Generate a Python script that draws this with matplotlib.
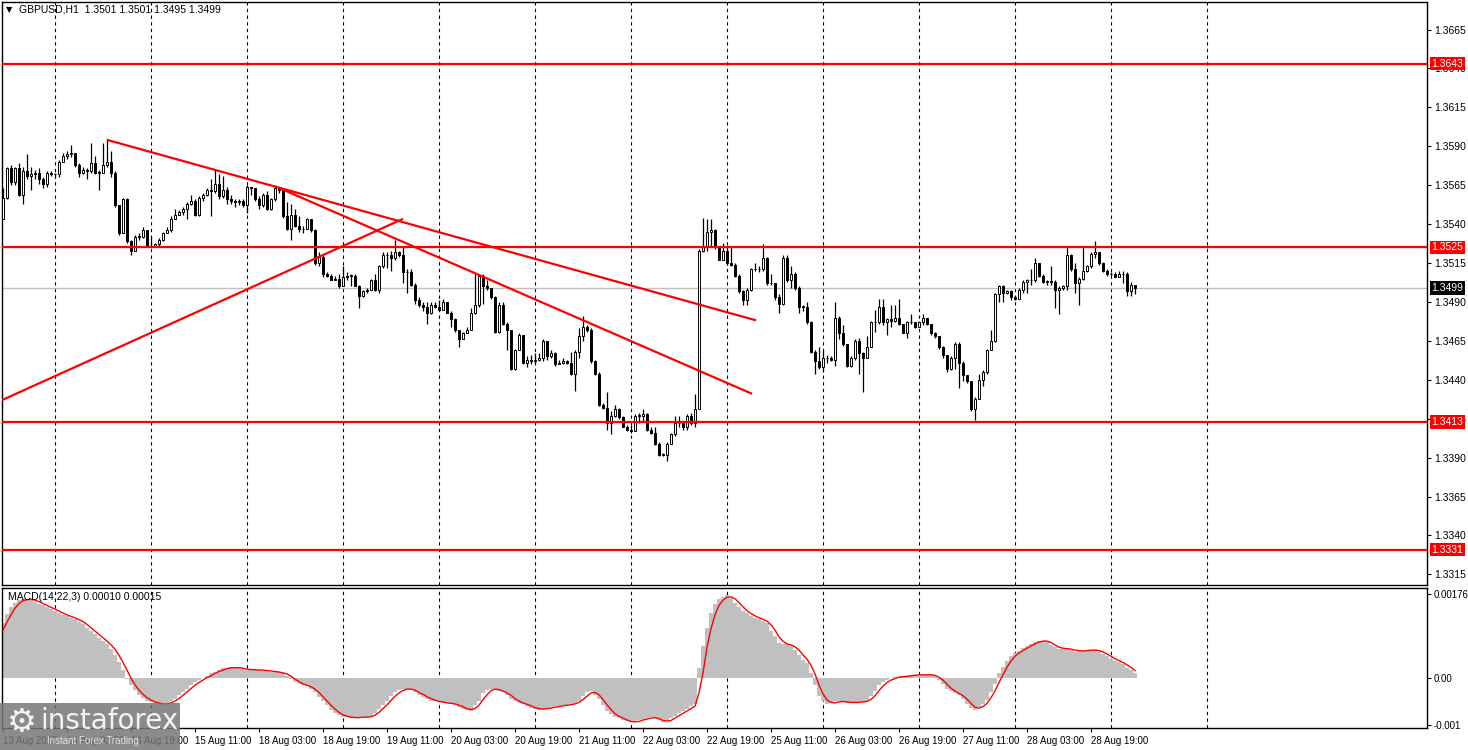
import numpy as np
import matplotlib
matplotlib.use('Agg')
import matplotlib.pyplot as plt
from matplotlib.patches import Rectangle

# GBPUSD H1, one bar per hour: 13 Aug 11:00 ... 29 Aug 06:00
first_open = 1.3543
close = [
    1.3557, 1.3576, 1.3567, 1.3576, 1.3559, 1.3574, 1.3571, 1.3572, 1.3573, 1.3569,
    1.3566, 1.3573, 1.3572, 1.3572, 1.3580, 1.3584, 1.3585, 1.3586, 1.3578, 1.3573,
    1.3575, 1.3574, 1.3579, 1.3573, 1.3573, 1.3578, 1.3580, 1.3573, 1.3552, 1.3534,
    1.3556, 1.3529, 1.3523, 1.3532, 1.3532, 1.3536, 1.3526, 1.3526, 1.3527, 1.3530,
    1.3534, 1.3536, 1.3543, 1.3546, 1.3548, 1.3550, 1.3553, 1.3555, 1.3546, 1.3557,
    1.3559, 1.3562, 1.3561, 1.3566, 1.3558, 1.3562, 1.3556, 1.3555, 1.3554, 1.3555,
    1.3552, 1.3564, 1.3563, 1.3556, 1.3552, 1.3559, 1.3550, 1.3556, 1.3563, 1.3562,
    1.3545, 1.3537, 1.3546, 1.3539, 1.3537, 1.3537, 1.3543, 1.3536, 1.3515, 1.3519,
    1.3508, 1.3507, 1.3504, 1.3505, 1.3500, 1.3506, 1.3507, 1.3507, 1.3500, 1.3494,
    1.3497, 1.3498, 1.3504, 1.3498, 1.3513, 1.3520, 1.3520, 1.3518, 1.3522, 1.3520,
    1.3509, 1.3509, 1.3501, 1.3491, 1.3488, 1.3487, 1.3483, 1.3488, 1.3487, 1.3485,
    1.3490, 1.3483, 1.3479, 1.3472, 1.3466, 1.3470, 1.3472, 1.3483, 1.3488, 1.3507,
    1.3500, 1.3499, 1.3493, 1.3471, 1.3488, 1.3476, 1.3472, 1.3447, 1.3459, 1.3469,
    1.3451, 1.3453, 1.3452, 1.3453, 1.3454, 1.3465, 1.3455, 1.3457, 1.3450, 1.3451,
    1.3452, 1.3451, 1.3444, 1.3458, 1.3468, 1.3474, 1.3472, 1.3452, 1.3444, 1.3424,
    1.3422, 1.3412, 1.3417, 1.3421, 1.3416, 1.3410, 1.3408, 1.3407, 1.3417, 1.3417,
    1.3418, 1.3408, 1.3406, 1.3399, 1.3392, 1.3392, 1.3399, 1.3405, 1.3412, 1.3412,
    1.3410, 1.3417, 1.3412, 1.3421, 1.3523, 1.3525, 1.3535, 1.3536, 1.3525, 1.3517,
    1.3523, 1.3515, 1.3514, 1.3507, 1.3497, 1.3491, 1.3498, 1.3511, 1.3511, 1.3511,
    1.3518, 1.3502, 1.3502, 1.3493, 1.3489, 1.3518, 1.3504, 1.3508, 1.3499, 1.3487,
    1.3487, 1.3477, 1.3458, 1.3452, 1.3448, 1.3454, 1.3454, 1.3453, 1.3480, 1.3470,
    1.3463, 1.3449, 1.3454, 1.3465, 1.3457, 1.3454, 1.3461, 1.3477, 1.3477, 1.3487,
    1.3477, 1.3479, 1.3478, 1.3480, 1.3476, 1.3470, 1.3477, 1.3477, 1.3474, 1.3477,
    1.3480, 1.3476, 1.3470, 1.3468, 1.3461, 1.3456, 1.3447, 1.3454, 1.3463, 1.3451,
    1.3443, 1.3439, 1.3421, 1.3428, 1.3440, 1.3445, 1.3459, 1.3465, 1.3495, 1.3500,
    1.3496, 1.3497, 1.3493, 1.3492, 1.3498, 1.3503, 1.3504, 1.3504, 1.3515, 1.3507,
    1.3503, 1.3503, 1.3503, 1.3498, 1.3499, 1.3500, 1.3520, 1.3511, 1.3502, 1.3505,
    1.3510, 1.3513, 1.3521, 1.3522, 1.3515, 1.3510, 1.3508, 1.3508, 1.3506, 1.3508,
    1.3508, 1.3497, 1.3501, 1.3499]
high = [
    1.3563, 1.3577, 1.3578, 1.3577, 1.3579, 1.3577, 1.3585, 1.3577, 1.3575, 1.3576,
    1.3570, 1.3574, 1.3574, 1.3573, 1.3581, 1.3586, 1.3587, 1.3591, 1.3584, 1.3579,
    1.3577, 1.3576, 1.3592, 1.3584, 1.3575, 1.3592, 1.3594, 1.3587, 1.3574, 1.3552,
    1.3557, 1.3557, 1.3530, 1.3533, 1.3534, 1.3538, 1.3536, 1.3532, 1.3528, 1.3531,
    1.3535, 1.3538, 1.3545, 1.3550, 1.3549, 1.3551, 1.3554, 1.3559, 1.3556, 1.3558,
    1.3560, 1.3563, 1.3569, 1.3575, 1.3572, 1.3571, 1.3564, 1.3559, 1.3556, 1.3556,
    1.3556, 1.3565, 1.3564, 1.3563, 1.3558, 1.3560, 1.3561, 1.3557, 1.3565, 1.3564,
    1.3563, 1.3554, 1.3553, 1.3550, 1.3545, 1.3539, 1.3544, 1.3543, 1.3537, 1.3522,
    1.3520, 1.3509, 1.3508, 1.3507, 1.3508, 1.3513, 1.3509, 1.3508, 1.3508, 1.3501,
    1.3498, 1.3499, 1.3505, 1.3508, 1.3514, 1.3522, 1.3522, 1.3523, 1.3530, 1.3523,
    1.3525, 1.3511, 1.3511, 1.3502, 1.3493, 1.3490, 1.3490, 1.3490, 1.3490, 1.3491,
    1.3492, 1.3490, 1.3484, 1.3480, 1.3472, 1.3471, 1.3474, 1.3486, 1.3508, 1.3508,
    1.3508, 1.3504, 1.3499, 1.3494, 1.3490, 1.3490, 1.3477, 1.3472, 1.3460, 1.3470,
    1.3469, 1.3455, 1.3456, 1.3457, 1.3457, 1.3466, 1.3465, 1.3459, 1.3458, 1.3453,
    1.3454, 1.3453, 1.3458, 1.3459, 1.3473, 1.3481, 1.3475, 1.3473, 1.3453, 1.3445,
    1.3425, 1.3432, 1.3420, 1.3424, 1.3422, 1.3417, 1.3411, 1.3411, 1.3418, 1.3419,
    1.3421, 1.3419, 1.3410, 1.3410, 1.3400, 1.3393, 1.3400, 1.3406, 1.3417, 1.3417,
    1.3412, 1.3418, 1.3419, 1.3431, 1.3524, 1.3544, 1.3543, 1.3543, 1.3537, 1.3525,
    1.3528, 1.3525, 1.3525, 1.3515, 1.3508, 1.3498, 1.3499, 1.3512, 1.3515, 1.3513,
    1.3527, 1.3519, 1.3508, 1.3502, 1.3495, 1.3520, 1.3520, 1.3513, 1.3509, 1.3500,
    1.3488, 1.3490, 1.3478, 1.3459, 1.3461, 1.3459, 1.3456, 1.3455, 1.3490, 1.3481,
    1.3475, 1.3463, 1.3455, 1.3466, 1.3467, 1.3458, 1.3468, 1.3478, 1.3485, 1.3492,
    1.3492, 1.3480, 1.3488, 1.3488, 1.3492, 1.3476, 1.3478, 1.3482, 1.3477, 1.3478,
    1.3482, 1.3480, 1.3476, 1.3471, 1.3468, 1.3462, 1.3456, 1.3455, 1.3464, 1.3464,
    1.3452, 1.3443, 1.3439, 1.3429, 1.3444, 1.3446, 1.3460, 1.3472, 1.3496, 1.3501,
    1.3501, 1.3498, 1.3498, 1.3494, 1.3499, 1.3504, 1.3505, 1.3511, 1.3518, 1.3515,
    1.3508, 1.3504, 1.3513, 1.3504, 1.3500, 1.3501, 1.3525, 1.3521, 1.3515, 1.3506,
    1.3526, 1.3514, 1.3522, 1.3529, 1.3522, 1.3516, 1.3511, 1.3509, 1.3509, 1.3510,
    1.3510, 1.3509, 1.3503, 1.3501]
low = [
    1.3543, 1.3556, 1.3565, 1.3565, 1.3558, 1.3553, 1.3569, 1.3562, 1.3569, 1.3566,
    1.3563, 1.3564, 1.3571, 1.3570, 1.3570, 1.3580, 1.3582, 1.3583, 1.3577, 1.3570,
    1.3572, 1.3569, 1.3573, 1.3572, 1.3562, 1.3573, 1.3577, 1.3570, 1.3551, 1.3533,
    1.3534, 1.3528, 1.3520, 1.3523, 1.3530, 1.3531, 1.3525, 1.3525, 1.3525, 1.3525,
    1.3529, 1.3534, 1.3535, 1.3543, 1.3546, 1.3546, 1.3543, 1.3552, 1.3545, 1.3545,
    1.3555, 1.3558, 1.3545, 1.3560, 1.3556, 1.3557, 1.3553, 1.3553, 1.3551, 1.3552,
    1.3551, 1.3547, 1.3559, 1.3555, 1.3550, 1.3551, 1.3549, 1.3549, 1.3555, 1.3560,
    1.3544, 1.3536, 1.3530, 1.3538, 1.3535, 1.3534, 1.3538, 1.3535, 1.3514, 1.3513,
    1.3506, 1.3506, 1.3504, 1.3504, 1.3499, 1.3500, 1.3504, 1.3500, 1.3500, 1.3486,
    1.3493, 1.3496, 1.3498, 1.3497, 1.3496, 1.3512, 1.3512, 1.3510, 1.3517, 1.3519,
    1.3502, 1.3496, 1.3500, 1.3489, 1.3487, 1.3484, 1.3476, 1.3482, 1.3486, 1.3484,
    1.3485, 1.3483, 1.3474, 1.3471, 1.3461, 1.3466, 1.3470, 1.3472, 1.3482, 1.3487,
    1.3489, 1.3498, 1.3492, 1.3470, 1.3470, 1.3475, 1.3459, 1.3446, 1.3446, 1.3459,
    1.3450, 1.3448, 1.3450, 1.3450, 1.3452, 1.3452, 1.3453, 1.3454, 1.3449, 1.3450,
    1.3450, 1.3450, 1.3443, 1.3433, 1.3454, 1.3465, 1.3471, 1.3451, 1.3443, 1.3423,
    1.3421, 1.3408, 1.3405, 1.3416, 1.3415, 1.3410, 1.3407, 1.3406, 1.3407, 1.3412,
    1.3413, 1.3407, 1.3405, 1.3398, 1.3391, 1.3391, 1.3388, 1.3399, 1.3404, 1.3410,
    1.3408, 1.3408, 1.3411, 1.3410, 1.3421, 1.3522, 1.3523, 1.3525, 1.3524, 1.3517,
    1.3517, 1.3514, 1.3513, 1.3506, 1.3496, 1.3488, 1.3488, 1.3497, 1.3510, 1.3509,
    1.3510, 1.3501, 1.3501, 1.3491, 1.3483, 1.3488, 1.3503, 1.3499, 1.3498, 1.3483,
    1.3484, 1.3476, 1.3457, 1.3444, 1.3447, 1.3445, 1.3451, 1.3452, 1.3449, 1.3466,
    1.3462, 1.3448, 1.3448, 1.3453, 1.3444, 1.3432, 1.3454, 1.3461, 1.3471, 1.3476,
    1.3475, 1.3469, 1.3474, 1.3477, 1.3475, 1.3470, 1.3467, 1.3476, 1.3473, 1.3474,
    1.3475, 1.3475, 1.3469, 1.3467, 1.3460, 1.3454, 1.3445, 1.3446, 1.3447, 1.3435,
    1.3439, 1.3438, 1.3420, 1.3414, 1.3428, 1.3436, 1.3444, 1.3459, 1.3464, 1.3490,
    1.3490, 1.3495, 1.3491, 1.3491, 1.3492, 1.3496, 1.3496, 1.3501, 1.3503, 1.3506,
    1.3502, 1.3501, 1.3501, 1.3486, 1.3482, 1.3498, 1.3498, 1.3510, 1.3496, 1.3488,
    1.3504, 1.3509, 1.3512, 1.3518, 1.3514, 1.3509, 1.3507, 1.3507, 1.3506, 1.3507,
    1.3502, 1.3494, 1.3494, 1.3495]

# MACD(14,22,3): main (histogram) and signal, in units of 0.00001
macd_main = [
    116, 133, 148, 158, 163, 165, 165, 164, 160, 156,
    152, 148, 144, 141, 136, 132, 129, 126, 123, 118,
    112, 105, 98, 91, 84, 77, 70, 61, 48, 33,
    16, -2, -16, -26, -36, -42, -48, -51, -54, -55,
    -55, -54, -50, -44, -37, -30, -23, -16, -10, -5,
    0, 4, 9, 13, 16, 20, 21, 22, 21, 20,
    18, 17, 17, 16, 16, 15, 14, 13, 11, 11,
    9, 4, -3, -9, -13, -16, -18, -23, -31, -40,
    -50, -58, -67, -74, -78, -82, -83, -84, -84, -83,
    -83, -82, -80, -74, -65, -57, -48, -39, -31, -26,
    -23, -23, -26, -30, -36, -40, -44, -48, -50, -51,
    -53, -54, -55, -57, -61, -65, -68, -69, -58, -48,
    -33, -26, -23, -24, -28, -31, -37, -44, -50, -53,
    -55, -60, -63, -65, -67, -65, -64, -62, -60, -60,
    -58, -57, -55, -53, -48, -38, -30, -28, -36, -44,
    -57, -69, -76, -82, -85, -89, -92, -94, -92, -89,
    -87, -84, -83, -85, -90, -94, -90, -85, -80, -75,
    -70, -65, -60, -55, 20, 66, 105, 137, 155, 165,
    170, 173, 168, 158, 148, 141, 135, 130, 126, 123,
    119, 114, 99, 87, 73, 71, 70, 66, 59, 48,
    38, 30, 10, -16, -38, -48, -55, -53, -50, -50,
    -50, -53, -53, -51, -51, -51, -48, -38, -28, -16,
    -10, -5, -1, 1, 2, 4, 4, 5, 6, 6,
    6, 6, 6, 3, -5, -14, -23, -28, -33, -37,
    -44, -55, -64, -67, -62, -55, -46, -30, -14, 9,
    23, 36, 45, 52, 57, 62, 67, 71, 75, 78,
    78, 75, 68, 64, 61, 61, 61, 59, 55, 57,
    57, 58, 59, 58, 55, 50, 45, 40, 36, 33,
    28, 21, 16, 10]
macd_signal = [
    100, 117, 132, 146, 156, 162, 164, 165, 163, 160,
    156, 152, 148, 144, 140, 136, 132, 129, 126, 122,
    118, 112, 105, 98, 91, 84, 77, 69, 60, 47,
    32, 16, -1, -15, -26, -35, -42, -47, -51, -53,
    -55, -55, -53, -49, -44, -37, -30, -23, -16, -10,
    -5, 0, 4, 9, 13, 16, 19, 21, 21, 21,
    20, 18, 17, 17, 16, 16, 15, 14, 13, 12,
    10, 8, 3, -3, -8, -13, -16, -19, -24, -31,
    -40, -49, -58, -66, -73, -78, -81, -83, -84, -84,
    -83, -83, -82, -79, -73, -65, -57, -48, -39, -32,
    -27, -24, -24, -26, -31, -35, -40, -44, -47, -50,
    -51, -53, -54, -55, -58, -61, -65, -67, -65, -58,
    -46, -36, -27, -24, -25, -28, -32, -37, -44, -49,
    -53, -56, -59, -63, -65, -66, -65, -64, -62, -61,
    -59, -58, -57, -55, -52, -46, -39, -32, -31, -36,
    -46, -57, -67, -76, -81, -85, -89, -92, -93, -92,
    -89, -87, -85, -84, -86, -90, -91, -90, -85, -80,
    -75, -70, -65, -60, -32, 10, 64, 103, 132, 152,
    163, 169, 170, 166, 158, 149, 141, 135, 130, 126,
    123, 119, 111, 100, 86, 77, 71, 69, 65, 58,
    48, 39, 26, 8, -15, -34, -47, -52, -53, -51,
    -50, -51, -52, -52, -52, -51, -50, -46, -38, -27,
    -18, -10, -5, -2, 1, 2, 3, 4, 5, 6,
    6, 6, 6, 5, 1, -5, -14, -22, -28, -33,
    -38, -45, -54, -62, -64, -61, -54, -42, -28, -10,
    6, 22, 35, 45, 52, 57, 62, 67, 71, 75,
    77, 77, 74, 69, 64, 62, 61, 60, 58, 57,
    56, 57, 58, 58, 57, 54, 50, 45, 40, 36,
    32, 27, 22, 15]

levels = [1.3643, 1.3525, 1.3413, 1.3331]
bid = 1.3499

# trend lines as (bar, price) pairs
trend_lines = [((-0.75, 1.34264), (99.75, 1.35431)),
               ((26.2, 1.35940), (188.0, 1.34784)),
               ((69.25, 1.35630), (187.0, 1.34313))]

day_starts = [13, 37, 61, 85, 109, 133, 157, 181, 205, 229, 253, 277, 301]
date_pos = list(range(0, 273, 16))
date_labels = ['13 Aug 2025', '14 Aug 03:00', '14 Aug 19:00', '15 Aug 11:00',
               '18 Aug 03:00', '18 Aug 19:00', '19 Aug 11:00', '20 Aug 03:00',
               '20 Aug 19:00', '21 Aug 11:00', '22 Aug 03:00', '22 Aug 19:00',
               '25 Aug 11:00', '26 Aug 03:00', '26 Aug 19:00', '27 Aug 11:00',
               '28 Aug 03:00', '28 Aug 19:00']
price_ticks = [1.3315, 1.3340, 1.3365, 1.3390, 1.3415, 1.3440, 1.3465, 1.3490,
               1.3515, 1.3540, 1.3565, 1.3590, 1.3615, 1.3640, 1.3665]
macd_ticks = [0.00176, 0.0, -0.001]
macd_tick_labels = ['0.00176', '0.00', '-0.001']

plt.rcParams['font.family'] = ['Liberation Sans', 'DejaVu Sans']

W, H = 1468, 750
fig = plt.figure(figsize=(W / 100, H / 100), dpi=100)
fig.patch.set_facecolor('white')


def px_axes(l, t, r, b):
    return fig.add_axes([l / W, 1 - b / H, (r - l) / W, (b - t) / H])


ax = px_axes(2, 2, 1427, 585)
axm = px_axes(2, 588, 1427, 728)

c = np.array(close)
o = np.concatenate([[first_open], c[:-1]])
hi = np.maximum(np.array(high), np.maximum(o, c))
lo = np.minimum(np.array(low), np.minimum(o, c))
idx = np.arange(len(c))

for a in (ax, axm):
    a.set_xlim(-0.25, 356)
    for d in day_starts:
        a.axvline(d, color='black', lw=0.8, ls=(0, (3, 3)), zorder=1)
    for s in a.spines.values():
        s.set_linewidth(1)

# price panel
ax.set_ylim(1.33082, 1.36827)
ax.axhline(bid, color='#c0c0c0', lw=1, zorder=2)
ax.vlines(idx, lo, hi, color='black', lw=0.9, zorder=3)
body = np.abs(c - o)
body = np.where(body < 0.00002, 0.00002, body)
ax.bar(idx, body, bottom=np.minimum(o, c), width=0.65,
       color=np.where(c >= o, 'white', 'black'), edgecolor='black',
       linewidth=0.7, zorder=4)
for lv in levels:
    ax.axhline(lv, color='#ff0000', lw=1.6, zorder=5)
for (x0, y0), (x1, y1) in trend_lines:
    ax.plot([x0, x1], [y0, y1], color='#ff0000', lw=1.6, zorder=5)

ax.set_xticks([])
ax.yaxis.tick_right()
ax.set_yticks(price_ticks)
ax.set_yticklabels(['%.4f' % p for p in price_ticks])
ax.tick_params(axis='y', length=3, width=0.8, pad=2, labelsize=7.5)

ytr = ax.get_yaxis_transform()
for lv in levels:
    ax.text(1.003, lv, '%.4f' % lv, transform=ytr, ha='left', va='center',
            fontsize=7.5, color='white', clip_on=False, zorder=10,
            bbox=dict(facecolor='#ff0000', edgecolor='none', pad=1.2))
ax.text(1.003, bid, '%.4f' % bid, transform=ytr, ha='left', va='center',
        fontsize=7.5, color='white', clip_on=False, zorder=10,
        bbox=dict(facecolor='black', edgecolor='none', pad=1.2))

# MACD panel
main = np.array(macd_main) * 1e-5
sig = np.array(macd_signal) * 1e-5
axm.set_ylim(-0.001058, 0.001886)
axm.bar(idx, main, width=0.78, color='#c0c0c0', linewidth=0,
        antialiased=False, zorder=2)
axm.plot(idx, sig, color='#ff0000', lw=1, zorder=3)
axm.yaxis.tick_right()
axm.set_yticks(macd_ticks)
axm.set_yticklabels(macd_tick_labels)
axm.tick_params(axis='y', length=3, width=0.8, pad=2, labelsize=7)
axm.set_xticks(date_pos)
axm.set_xticklabels(date_labels, ha='left')
axm.tick_params(axis='x', length=3, width=0.8, pad=3, labelsize=7)

fig.text(6 / W, 1 - 10 / H, '\u25bc', fontsize=6, va='center',
         family='DejaVu Sans')
fig.text(19 / W, 1 - 10 / H, 'GBPUSD,H1  1.3501 1.3501 1.3495 1.3499',
         fontsize=7.5, va='center')
fig.text(8 / W, 1 - 597 / H, 'MACD(14,22,3) 0.00010 0.00015',
         fontsize=7.5, va='center')

# watermark
fig.patches.append(Rectangle((0, 0), 180 / W, 47 / H, transform=fig.transFigure,
                             facecolor='#777777', edgecolor='none', alpha=0.85))
fig.text(22 / W, 1 - 722 / H, '\u2699', fontsize=24, color='white',
         ha='center', va='center', family='DejaVu Sans', alpha=0.9)
fig.text(40 / W, 1 - 721 / H, 'instaforex', fontsize=20, color='white',
         va='center', family='DejaVu Sans', alpha=0.9)
fig.text(47 / W, 1 - 741 / H, 'Instant Forex Trading', fontsize=7,
         color='#e0e0e0', va='center')

fig.savefig('out.png', dpi=100)
